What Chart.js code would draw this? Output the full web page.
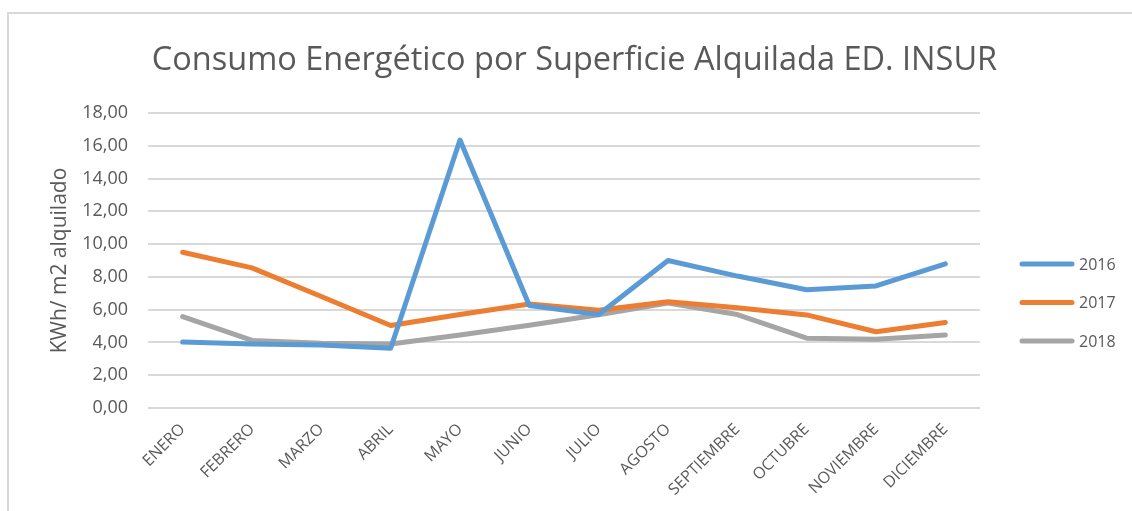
<!DOCTYPE html>
<html>
<head>
<meta charset="utf-8">
<script src="https://cdn.jsdelivr.net/npm/chart.js@4.4.1/dist/chart.umd.min.js"></script>
<style>
  html, body { margin: 0; padding: 0; background: #fff; }
  #frame { position: absolute; left: 7px; top: 12px; width: 1300px; height: 700px; border: 2px solid #d9d9d9; box-sizing: border-box; }
  #wrap { position: absolute; left: 0; top: 0; width: 1132px; height: 511px; }
</style>
</head>
<body>
<div id="frame"></div>
<div id="wrap"><canvas id="c" width="1132" height="511"></canvas></div>
<script>
const categories = ['ENERO','FEBRERO','MARZO','ABRIL','MAYO','JUNIO','JULIO','AGOSTO','SEPTIEMBRE','OCTUBRE','NOVIEMBRE','DICIEMBRE'];
const seriesNames = ['2016','2017','2018'];
const values2016 = [4.02, 3.90, 3.85, 3.65, 16.35, 6.25, 5.70, 9.00, 8.05, 7.22, 7.45, 8.80];
const values2017 = [9.50, 8.55, 6.80, 5.03, 5.70, 6.35, 5.97, 6.48, 6.12, 5.68, 4.65, 5.22];
const values2018 = [5.58, 4.12, 3.95, 3.90, 4.45, 5.05, 5.69, 6.40, 5.70, 4.26, 4.20, 4.46];
const yMin = 0, yMax = 18, yStep = 2;
const colors = ['#5B9BD5', '#ED7D31', '#A5A5A5'];

const textColor = '#595959';
const FONT = "'Open Sans', 'DejaVu Sans', sans-serif";

const legendPlugin = {
  id: 'sideLegend',
  afterDraw(chart, args, opts) {
    const ctx = chart.ctx;
    ctx.save();
    chart.data.datasets.forEach((ds, i) => {
      const y = opts.y0 + i * opts.gap;
      ctx.beginPath();
      ctx.strokeStyle = ds.borderColor;
      ctx.lineWidth = 5;
      ctx.lineCap = 'round';
      ctx.moveTo(opts.x0, y);
      ctx.lineTo(opts.x1, y);
      ctx.stroke();
      ctx.fillStyle = textColor;
      ctx.font = '16px ' + FONT;
      ctx.textBaseline = 'middle';
      ctx.textAlign = 'left';
      ctx.fillText(ds.label, opts.tx, y + 1);
    });
    ctx.restore();
  }
};

const datasets = [values2016, values2017, values2018].map((vals, i) => ({
  label: seriesNames[i],
  data: vals,
  borderColor: colors[i],
  backgroundColor: colors[i],
  borderWidth: 5,
  pointRadius: 0,
  pointHoverRadius: 0,
  tension: 0,
  borderCapStyle: 'round',
  borderJoinStyle: 'round',
  fill: false,
  yAxisID: 'y'
}));

new Chart(document.getElementById('c'), {
  type: 'line',
  data: { labels: categories, datasets: datasets },
  options: {
    responsive: false,
    animation: false,
    devicePixelRatio: 1,
    layout: { padding: { left: 17, right: 0, top: 0, bottom: 0 } },
    plugins: {
      legend: { display: false },
      tooltip: { enabled: false },
      title: {
        display: true,
        text: 'Consumo Energético por Superficie Alquilada ED. INSUR',
        color: textColor,
        font: { family: FONT, size: 32.5, weight: 'normal', lineHeight: 1.2 },
        padding: { top: 41, bottom: 33 }
      },
      sideLegend: { x0: 1022, x1: 1072, tx: 1079, y0: 264, gap: 38.5 }
    },
    scales: {
      x: {
        offset: true,
        grid: { display: false },
        border: { display: false },
        ticks: {
          color: textColor,
          font: { family: FONT, size: 16 },
          minRotation: 45,
          maxRotation: 45,
          autoSkip: false,
          padding: 4
        },
        afterFit(scale) { scale.height = 103; }
      },
      y: {
        min: yMin,
        max: yMax,
        border: { display: false },
        grid: { color: '#d9d9d9', lineWidth: 2, drawTicks: false },
        ticks: {
          stepSize: yStep,
          color: textColor,
          font: { family: FONT, size: 18 },
          padding: 20,
          callback: v => v.toFixed(2).replace('.', ',')
        },
        title: {
          display: true,
          text: 'KWh/ m2 alquilado',
          color: textColor,
          font: { family: FONT, size: 21, lineHeight: 1.2 },
          padding: { top: 30, bottom: 0 }
        },
        afterFit(scale) { scale.width = 131; }
      },
      yRight: {
        type: 'linear',
        position: 'right',
        display: true,
        grid: { display: false },
        border: { display: false },
        ticks: { display: false },
        afterFit(scale) { scale.width = 152; }
      }
    }
  },
  plugins: [legendPlugin]
});
</script>
</body>
</html>
